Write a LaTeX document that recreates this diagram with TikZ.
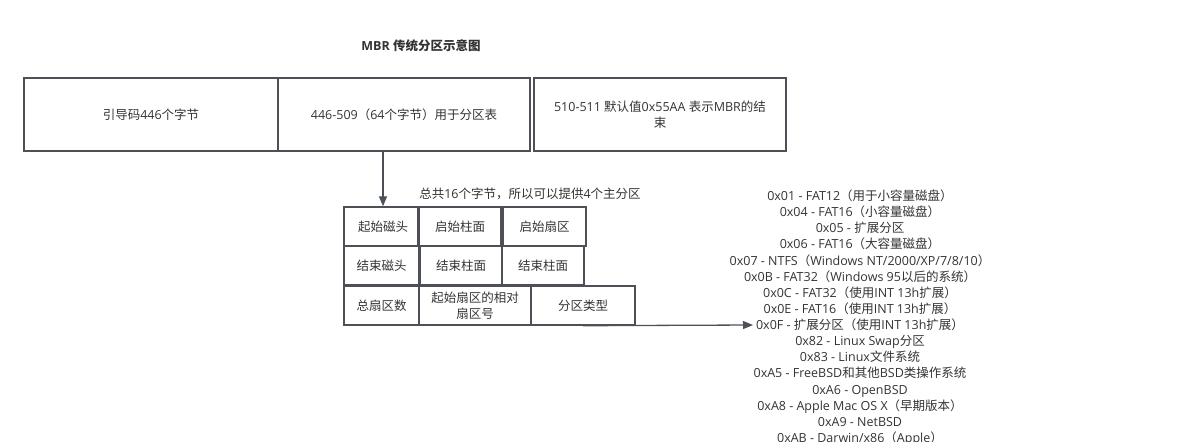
\documentclass[tikz,border=0pt]{standalone}
\usepackage{fontspec}
\setmainfont{Open Sans}
\newfontfamily\cjkfont{Noto Sans CJK SC}
\XeTeXinterchartokenstate=1
\newXeTeXintercharclass\CJKcls
\newcount\ccnt
\ccnt="3000 \loop \XeTeXcharclass\ccnt=\CJKcls \advance\ccnt by 1 \ifnum\ccnt<"3040 \repeat
\ccnt="4E00 \loop \XeTeXcharclass\ccnt=\CJKcls \advance\ccnt by 1 \ifnum\ccnt<"A000 \repeat
\ccnt="FF00 \loop \XeTeXcharclass\ccnt=\CJKcls \advance\ccnt by 1 \ifnum\ccnt<"FF60 \repeat
\XeTeXinterchartoks 0 \CJKcls = {\begingroup\cjkfont}
\XeTeXinterchartoks 4095 \CJKcls = {\begingroup\cjkfont}
\XeTeXinterchartoks \CJKcls 0 = {\endgroup}
\XeTeXinterchartoks \CJKcls 4095 = {\endgroup}
\usetikzlibrary{arrows.meta}
\definecolor{txt}{HTML}{333333}
\definecolor{ln}{HTML}{4D5157}
\tikzset{
  cell/.style={draw=ln, line width=1.4pt, text=txt, inner sep=0pt, align=center,
    font=\fontsize{12.5}{16}\selectfont},
  bigcell/.style={cell, line width=1.8pt, minimum height=73pt},
  arr/.style={draw=ln, line width=1.3pt, -{Triangle[length=10pt,width=8pt]}},
  listtxt/.style={text=txt, inner sep=0pt, anchor=base, font=\fontsize{12.5}{15}\selectfont}
}
\begin{document}
\begin{tikzpicture}[x=1pt,y=-1pt]
\clip (0,0) rectangle (1195,442);
\node[text=txt, font=\bfseries\fontsize{12.5}{14}\selectfont] (title) at (421,46) {MBR 传统分区示意图};
\node[bigcell, minimum width=254pt] (b1) at (151,114.5) {引导码446个字节};
\node[bigcell, minimum width=252pt] (b2) at (404,114.5) {446-509（64个字节）用于分区表};
\node[bigcell, minimum width=252pt] (b3) at (660,114.5) {510-511 默认值0x55AA 表示MBR的结\\束};
% grid
\node[cell, minimum width=74pt, minimum height=39pt] (c11) at (381,226.5) {\hspace{4pt}起始磁头};
\node[cell, minimum width=82pt, minimum height=39pt] (c12) at (460,226.5) {启始柱面};
\node[cell, minimum width=83pt, minimum height=39pt] (c13) at (544.5,226.5) {启始扇区};
\node[cell, minimum width=75pt, minimum height=39pt] (c21) at (381.5,265.5) {结束磁头};
\node[cell, minimum width=82pt, minimum height=39pt] (c22) at (461,265.5) {结束柱面};
\node[cell, minimum width=82pt, minimum height=39pt] (c23) at (543,265.5) {结束柱面};
\node[cell, minimum width=75pt, minimum height=39pt] (c31) at (381.5,305.5) {总扇区数};
\node[cell, minimum width=112pt, minimum height=39pt] (c32) at (475,305.5) {起始扇区的相对\\扇区号};
\node[cell, minimum width=104pt, minimum height=39pt] (c33) at (583,305.5) {分区类型};
\node[text=txt, inner sep=0pt, font=\fontsize{12.5}{14}\selectfont] (note) at (530,194) {总共16个字节，所以可以提供4个主分区};
% list
\foreach \t [count=\i from 0] in {
  {0x01 - FAT12（用于小容量磁盘）},
  {0x04 - FAT16（小容量磁盘）},
  {0x05 - 扩展分区},
  {0x06 - FAT16（大容量磁盘）},
  {0x07 - NTFS（Windows NT/2000/XP/7/8/10）},
  {0x0B - FAT32（Windows 95以后的系统）},
  {0x0C - FAT32（使用INT 13h扩展）},
  {0x0E - FAT16（使用INT 13h扩展）},
  {0x0F - 扩展分区（使用INT 13h扩展）},
  {0x82 - Linux Swap分区},
  {0x83 - Linux文件系统},
  {0xA5 - FreeBSD和其他BSD类操作系统},
  {0xA6 - OpenBSD},
  {0xA8 - Apple Mac OS X（早期版本）},
  {0xA9 - NetBSD},
  {0xAB - Darwin/x86（Apple）}}{
  \node[listtxt] (l\i) at (860,{200.5+16.13*\i}) {\t};
}
% connectors
\coordinate (a1) at (383,151);
\draw[arr] (a1) -- (a1 |- c11.north);
\coordinate (a2) at (753,325);
\draw[arr] (c33.south) -- (a2);
\end{tikzpicture}
\end{document}
